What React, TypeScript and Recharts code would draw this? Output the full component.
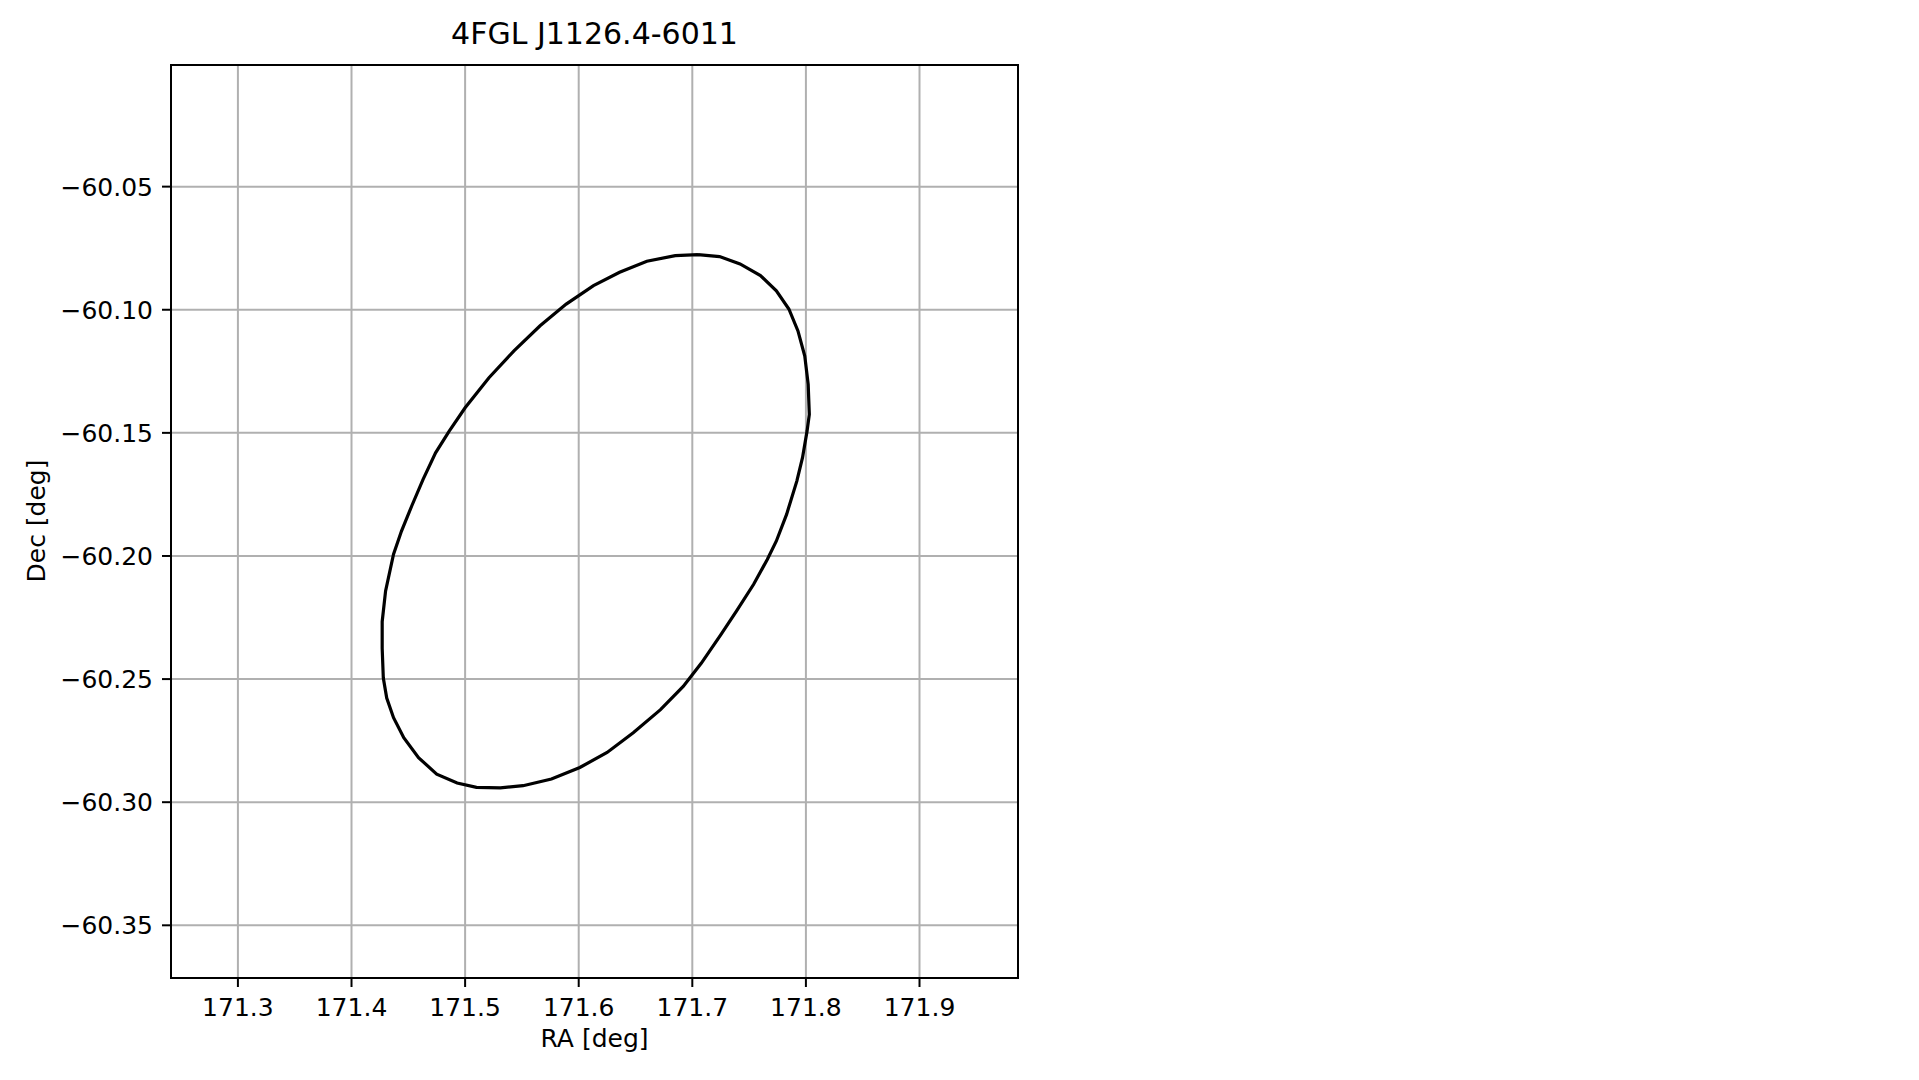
import { LineChart, Line, XAxis, YAxis, CartesianGrid, ReferenceArea } from "recharts";

// ellipse outline, clockwise from the top
const raValues = [
  171.705, 171.724, 171.742, 171.760, 171.774, 171.785, 171.793, 171.799, 171.802, 171.803,
  171.801, 171.797, 171.792, 171.783, 171.774, 171.766, 171.754, 171.739, 171.725, 171.708,
  171.692, 171.672, 171.648, 171.625, 171.601, 171.576, 171.551, 171.531, 171.510, 171.493,
  171.475, 171.459, 171.446, 171.437, 171.431, 171.428, 171.427, 171.427, 171.430, 171.437,
  171.444, 171.453, 171.463, 171.474, 171.486, 171.500, 171.521, 171.543, 171.566, 171.589,
  171.613, 171.636, 171.660, 171.685, 171.705,
];
const decValues = [
  -60.0776, -60.0784, -60.0814, -60.0861, -60.0923, -60.0997, -60.1086, -60.1188, -60.1303, -60.1425,
  -60.1493, -60.1601, -60.1696, -60.1831, -60.1939, -60.2014, -60.2115, -60.2223, -60.2320, -60.2435,
  -60.2530, -60.2624, -60.2718, -60.2798, -60.2859, -60.2906, -60.2933, -60.2942, -60.2940, -60.2922,
  -60.2886, -60.2819, -60.2738, -60.2657, -60.2577, -60.2496, -60.2375, -60.2267, -60.2142, -60.1993,
  -60.1899, -60.1797, -60.1689, -60.1581, -60.1493, -60.1398, -60.1276, -60.1167, -60.1065, -60.0977,
  -60.0902, -60.0848, -60.0803, -60.0780, -60.0776,
];

const xTicks = [171.3, 171.4, 171.5, 171.6, 171.7, 171.8, 171.9];
const yTicks = [-60.35, -60.3, -60.25, -60.2, -60.15, -60.1, -60.05];
const xDomain = [171.2411, 171.9867];
const yDomain = [-60.3714, -60.0006];

const ellipse = raValues.map((ra, i) => ({ ra, dec: decValues[i] }));

const FONT = "'DejaVu Sans', sans-serif";
const tickStyle = { fontSize: 25, fill: "#000", fontFamily: FONT };
const fmtDec = (v: number) => (v < 0 ? "\u2212" : "") + Math.abs(v).toFixed(2);

export default function App() {
  return (
    <div style={{ position: "absolute", left: 0, top: 0, width: 1919, height: 1080, background: "#fff" }}>
      <LineChart width={1919} height={1080} data={ellipse} margin={{ top: 65, right: 901, bottom: 42, left: 21 }}>
        <CartesianGrid stroke="#b0b0b0" strokeWidth={2} />
        <XAxis type="number" dataKey="ra" domain={xDomain} ticks={xTicks} allowDataOverflow
          tickFormatter={(v: number) => v.toFixed(1)} tick={tickStyle} height={60}
          tickSize={9} tickMargin={11}
          axisLine={{ stroke: "#000", strokeWidth: 2 }} tickLine={{ stroke: "#000", strokeWidth: 2 }} />
        <YAxis type="number" dataKey="dec" domain={yDomain} ticks={yTicks} allowDataOverflow
          tickFormatter={fmtDec} tick={tickStyle} width={150}
          tickSize={9} tickMargin={9}
          axisLine={{ stroke: "#000", strokeWidth: 2 }} tickLine={{ stroke: "#000", strokeWidth: 2 }} />
        <ReferenceArea x1={xDomain[0]} x2={xDomain[1]} y1={yDomain[0]} y2={yDomain[1]}
          fill="none" fillOpacity={0} stroke="#000" strokeWidth={2} strokeOpacity={1} />
        <Line dataKey="dec" type="linear" stroke="#000" strokeWidth={3.2} dot={false} isAnimationActive={false} />
      </LineChart>
      <svg width={1919} height={1080} style={{ position: "absolute", left: 0, top: 0, pointerEvents: "none" }}>
        <text x={594.5} y={44} textAnchor="middle" fontSize={30} fontFamily={FONT} fill="#000">4FGL J1126.4-6011</text>
        <text x={594.5} y={1047} textAnchor="middle" fontSize={25} fontFamily={FONT} fill="#000">RA [deg]</text>
        <text x={45} y={521} textAnchor="middle" fontSize={25} fontFamily={FONT} fill="#000"
          transform="rotate(-90 45 521)">Dec [deg]</text>
      </svg>
    </div>
  );
}
